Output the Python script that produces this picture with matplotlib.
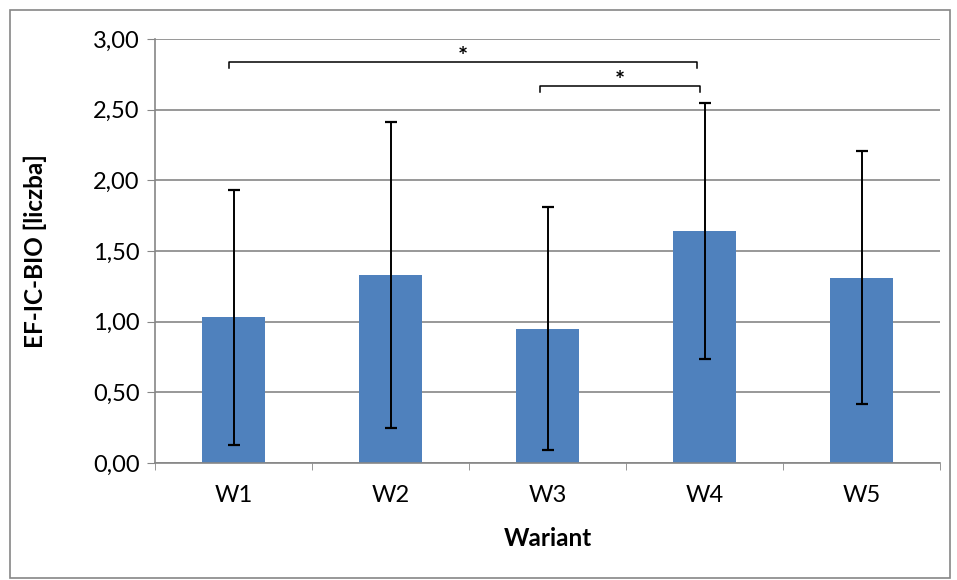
import matplotlib.pyplot as plt
from matplotlib.patches import Rectangle
import numpy as np

# data
warianty = ['W1', 'W2', 'W3', 'W4', 'W5']
srednie = [1.03, 1.33, 0.95, 1.64, 1.31]
odchylenia = [0.90, 1.08, 0.86, 0.905, 0.895]

# significance brackets: (start index, end index, y level)
nawiasy = [(-0.03, 2.95, 2.84), (1.95, 2.97, 2.67)]

plt.rcParams['font.family'] = ['Lato', 'DejaVu Sans']

fig = plt.figure(figsize=(9.57, 5.80), dpi=100)
ax = fig.add_axes([155 / 957, 1 - 463 / 580, 785 / 957, 424 / 580])

x = np.arange(len(warianty))
ax.bar(x, srednie, width=0.4, color='#4f81bd', zorder=2)
ax.errorbar(x, srednie, yerr=odchylenia, fmt='none', ecolor='black',
            elinewidth=1.4, capsize=4.5, capthick=1.6, zorder=3)

for x0, x1, y in nawiasy:
    ax.plot([x0, x0, x1, x1], [y - 0.045, y, y, y - 0.045], color='black', lw=1.1,
            zorder=4, clip_on=False)
    ax.text((x0 + x1) / 2, y - 0.05, '*', ha='center', va='bottom', fontsize=17,
            fontweight='bold')

ax.set_xlim(-0.5, 4.5)
ax.set_ylim(0, 3.0)
yt = np.arange(0, 3.01, 0.5)
ax.set_yticks(yt)
ax.set_yticklabels(['{:.2f}'.format(v).replace('.', ',') for v in yt], fontsize=17)
ax.set_xticks(x)
ax.set_xticklabels(warianty, fontsize=17)
ax.set_xticks(np.arange(-0.5, 4.6, 1), minor=True)
ax.tick_params(axis='x', which='major', length=0, pad=16)
ax.tick_params(axis='x', which='minor', length=5, color='#868686', direction='out')
ax.tick_params(axis='y', length=6, color='#868686', pad=5)

ax.grid(axis='y', color='#868686', lw=1.2, zorder=0)
for s in ['top', 'right']:
    ax.spines[s].set_visible(False)
for s in ['left', 'bottom']:
    ax.spines[s].set_color('#868686')
    ax.spines[s].set_linewidth(1.2)

ax.set_xlabel('Wariant', fontsize=17.5, fontweight='bold', labelpad=15)
ax.set_ylabel('EF-IC-BIO [liczba]', fontsize=17.5, fontweight='bold', labelpad=33)

fig.patches.append(Rectangle((10 / 957, 2 / 580), 940 / 957, 568 / 580,
                             transform=fig.transFigure, fill=False,
                             edgecolor='#868686', lw=1.2))

fig.savefig('out.png', dpi=100)
